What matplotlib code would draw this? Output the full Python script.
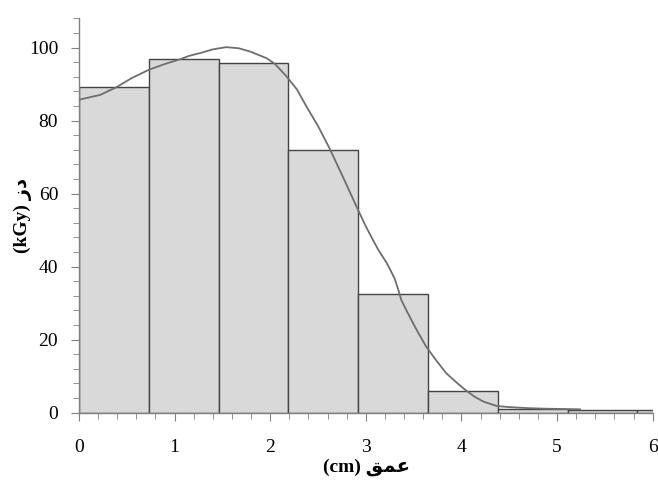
import matplotlib
matplotlib.use("Agg")
import matplotlib.pyplot as plt
from matplotlib.ticker import MultipleLocator

# histogram bins (left edges) and dose heights
bin_left = [0.0, 0.73, 1.46, 2.19, 2.92, 3.65, 4.38, 5.11, 5.84]
bin_width = 0.73
dose = [89.2, 96.8, 95.8, 71.9, 32.4, 6.0, 1.1, 0.8, 0.8]

# smooth fitted curve
curve_x = [0.0, 0.10, 0.22, 0.30, 0.39, 0.55, 0.73, 0.90, 1.06, 1.15, 1.27, 1.40,
           1.54, 1.67, 1.79, 1.96, 2.05, 2.17, 2.28, 2.38, 2.50, 2.62, 2.77, 2.91,
           3.00, 3.07, 3.13, 3.22, 3.30, 3.34, 3.37, 3.43, 3.53, 3.63, 3.73, 3.84,
           3.95, 4.05, 4.14, 4.23, 4.37, 4.50, 4.71, 4.90, 5.24]
curve_y = [85.7, 86.3, 87.0, 88.0, 89.1, 91.6, 93.9, 95.5, 96.8, 97.7, 98.5, 99.5,
           100.1, 99.8, 98.9, 97.1, 95.5, 92.1, 88.5, 83.8, 78.5, 72.4, 64.0, 56.0,
           51.0, 47.5, 44.6, 40.9, 36.8, 33.6, 30.9, 27.7, 22.7, 18.1, 14.5, 10.8,
           8.2, 6.0, 4.3, 3.0, 1.8, 1.5, 1.2, 1.05, 0.9]

xlabel = "(cm) \uFED6\uFEE4\uFECB"   # عمق
ylabel = "(kGy) \uFEAF\uFEA9"        # دز

plt.rcParams['font.family'] = ['Liberation Serif', 'DejaVu Sans']

fig = plt.figure(figsize=(6.58, 4.82), dpi=100)
ax = fig.add_axes([0.120, 0.144, 0.872, 0.818])

ax.bar(bin_left, dose, width=bin_width, align='edge', color='#d9d9d9',
       edgecolor='#444444', linewidth=1.0, zorder=2)
ax.plot(curve_x, curve_y, color='#6e6e6e', linewidth=1.3, zorder=3)

ax.set_xlim(0, 6)
ax.set_ylim(0, 108)
ax.xaxis.set_major_locator(MultipleLocator(1))
ax.xaxis.set_minor_locator(MultipleLocator(0.2))
ax.yaxis.set_major_locator(MultipleLocator(20))
ax.yaxis.set_minor_locator(MultipleLocator(4))

for s in ['top', 'right']:
    ax.spines[s].set_visible(False)
for s in ['left', 'bottom']:
    ax.spines[s].set_color('#808080')
    ax.spines[s].set_linewidth(1.0)

ax.tick_params(axis='both', which='major', length=6, color='#808080',
               labelsize=14, direction='out')
ax.tick_params(axis='both', which='minor', length=4, color='#808080',
               direction='out')
ax.tick_params(axis='x', which='major', pad=13)
ax.tick_params(axis='y', which='major', pad=9)

ax.set_xlabel(xlabel, fontsize=14, fontweight='bold')
ax.set_ylabel(ylabel, fontsize=14, fontweight='bold')
ax.xaxis.set_label_coords(0.502, -0.117)
ax.yaxis.set_label_coords(-0.082, 0.5)

fig.savefig("out.png", dpi=100)
